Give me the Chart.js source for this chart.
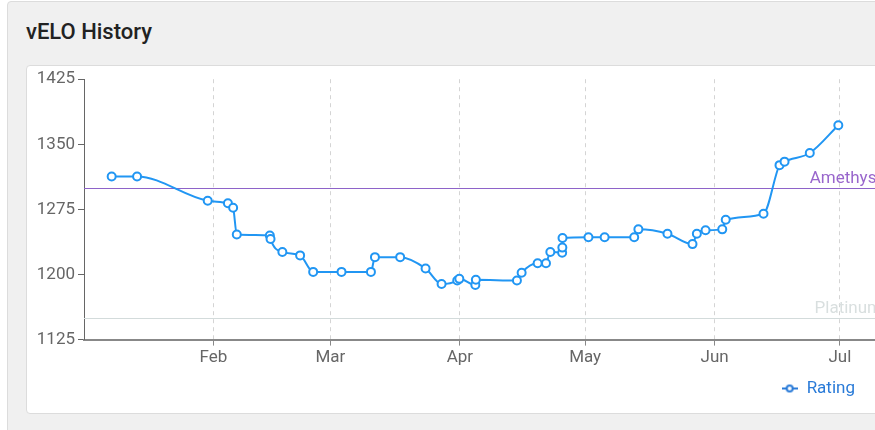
<!DOCTYPE html>
<html>
<head>
<meta charset="utf-8">
<title>vELO History</title>
<script src="https://cdn.jsdelivr.net/npm/chart.js@4.4.1/dist/chart.umd.min.js"></script>
<style>
  body {
    margin: 0;
    background: #fff;
    overflow: hidden;
    width: 875px;
    height: 430px;
    font-family: Roboto, "Noto Sans", sans-serif;
  }
  .card {
    position: absolute;
    left: 7px;
    top: 1px;
    width: 920px;
    height: 450px;
    background: #f0f0f0;
    border: 1px solid #dcdcdc;
    border-radius: 4px;
  }
  .card h3 {
    position: absolute;
    left: 18px;
    top: 17px;
    margin: 0;
    font-size: 22px;
    font-weight: 500;
    color: #222;
  }
  .panel {
    position: absolute;
    left: 18px;
    top: 63px;
    width: 900px;
    height: 347px;
    background: #fff;
    border: 1px solid #dcdcdc;
    border-radius: 4px;
  }
  #eloChart {
    position: absolute;
    left: 0;
    top: 0;
  }
</style>
</head>
<body>
<div class="card">
  <h3>vELO History</h3>
  <div class="panel">
    <canvas id="eloChart" width="900" height="347"></canvas>
  </div>
</div>
<script>
// rating history (2023)
const dates = [
  "2023-01-07T15:00", "2023-01-13T17:00", "2023-01-30T15:00", "2023-02-04T11:00",
  "2023-02-05T17:00", "2023-02-06T14:00", "2023-02-14T12:00", "2023-02-14T16:00",
  "2023-02-17T12:00", "2023-02-21T18:00", "2023-02-24T21:00", "2023-03-03T16:00",
  "2023-03-10T17:00", "2023-03-11T16:00", "2023-03-17T17:00", "2023-03-23T19:00",
  "2023-03-27T15:00", "2023-03-31T09:00", "2023-03-31T21:00", "2023-04-04T17:00",
  "2023-04-04T20:00", "2023-04-14T16:00", "2023-04-15T19:00", "2023-04-19T15:00",
  "2023-04-21T15:00", "2023-04-22T16:00", "2023-04-25T12:00", "2023-04-25T13:00",
  "2023-04-25T14:00", "2023-05-01T19:00", "2023-05-05T16:00", "2023-05-12T18:00",
  "2023-05-13T18:00", "2023-05-20T17:00", "2023-05-26T17:00", "2023-05-27T18:00",
  "2023-05-29T20:00", "2023-06-02T20:00", "2023-06-03T16:00", "2023-06-12T17:00",
  "2023-06-16T13:00", "2023-06-17T18:00", "2023-06-23T19:00", "2023-06-30T15:00"
];
const ratings = [
  1313, 1313, 1285, 1282,
  1277, 1246, 1245, 1241,
  1226, 1222, 1203, 1203,
  1203, 1220, 1220, 1207,
  1189, 1193, 1195, 1188,
  1194, 1193, 1202, 1213,
  1213, 1226, 1225, 1231,
  1242, 1243, 1243, 1243,
  1252, 1247, 1235, 1247,
  1251, 1252, 1263, 1270,
  1326, 1330, 1340, 1372
];

const axisStart = "2023-01-01T00:00";
const axisEnd = "2023-07-13T00:00";
const monthStarts = ["2023-02-01T00:00", "2023-03-01T00:00", "2023-04-01T00:00",
                     "2023-05-01T00:00", "2023-06-01T00:00", "2023-07-01T00:00"];
const monthLabels = ["Feb", "Mar", "Apr", "May", "Jun", "Jul"];

const yMin = 1125;
const yMax = 1425;
const yStep = 75;

const tierNames = ["Amethyst", "Platinum"];
const tierValues = [1300, 1150];

const tierStyles = {
  Amethyst: { line: "#8e63c9", text: "#9966cc" },
  Platinum: { line: "#d3dbdb", text: "#d9dfdf" }
};

const blue = "#2196f3";
const day0 = Date.parse(axisStart + "Z");
function toDay(s) {
  return (Date.parse(s + "Z") - day0) / 86400000;
}

const points = dates.map((d, i) => ({ x: toDay(d), y: ratings[i] }));
const tickDays = monthStarts.map(toDay);

// legend marker: line with a hollow circle
const marker = document.createElement("canvas");
marker.width = 16;
marker.height = 10;
(function () {
  const c = marker.getContext("2d");
  c.strokeStyle = "#2a7bd8";
  c.lineWidth = 2;
  c.beginPath();
  c.moveTo(0, 5);
  c.lineTo(16, 5);
  c.stroke();
  c.fillStyle = "#fff";
  c.beginPath();
  c.arc(8, 5, 3, 0, Math.PI * 2);
  c.fill();
  c.stroke();
})();

const tierLines = {
  id: "tierLines",
  afterLayout(chart) {
    chart.legend.right -= 22;
    chart.legend.top -= 3;
  },
  beforeDatasetsDraw(chart) {
    const { ctx, chartArea } = chart;
    const y = chart.scales.y;
    tierNames.forEach((name, i) => {
      const py = Math.round(y.getPixelForValue(tierValues[i])) + 0.5;
      const st = tierStyles[name];
      ctx.save();
      ctx.strokeStyle = st.line;
      ctx.lineWidth = 1;
      ctx.beginPath();
      ctx.moveTo(chartArea.left, py);
      ctx.lineTo(chartArea.right, py);
      ctx.stroke();
      ctx.fillStyle = st.text;
      ctx.font = "17px Roboto";
      ctx.textAlign = "right";
      ctx.textBaseline = "alphabetic";
      ctx.fillText(name, chartArea.right - 8, py - 6);
      ctx.restore();
    });
  }
};

new Chart(document.getElementById("eloChart"), {
  type: "line",
  data: {
    datasets: [
      {
        label: "Rating",
        data: points,
        borderColor: blue,
        backgroundColor: "#fff",
        borderWidth: 2,
        pointRadius: 4,
        pointBorderWidth: 2,
        pointBackgroundColor: "#fff",
        pointBorderColor: blue,
        cubicInterpolationMode: "monotone",
        fill: false
      }
    ]
  },
  options: {
    responsive: false,
    animation: false,
    devicePixelRatio: 1,
    layout: { padding: { top: 12, right: 37, left: 0, bottom: 3 } },
    plugins: {
      legend: {
        position: "bottom",
        align: "end",
        labels: {
          usePointStyle: true,
          pointStyle: marker,
          color: "#2a7bd8",
          padding: 13,
          font: { family: "Roboto", size: 17 }
        }
      },
      tooltip: { enabled: false }
    },
    scales: {
      x: {
        type: "linear",
        min: toDay(axisStart),
        max: toDay(axisEnd),
        afterBuildTicks(scale) {
          scale.ticks = tickDays.map((v) => ({ value: v }));
        },
        ticks: {
          color: "#666",
          padding: 2,
          maxRotation: 0,
          autoSkip: false,
          font: { family: "Roboto", size: 17 },
          callback(value) {
            const i = tickDays.indexOf(value);
            return i >= 0 ? monthLabels[i] : "";
          }
        },
        grid: {
          color: "#d4d4d4",
          tickColor: "#888",
          tickLength: 6,
          lineWidth: 1
        },
        border: { color: "#888", width: 2, dash: [4, 4] }
      },
      y: {
        min: yMin,
        max: yMax,
        afterFit(scale) {
          scale.width = 57;
        },
        ticks: {
          stepSize: yStep,
          color: "#666",
          padding: 3,
          font: { family: "Roboto", size: 17 },
          callback(value) {
            return String(value);
          }
        },
        grid: {
          drawOnChartArea: false,
          tickColor: "#666",
          tickLength: 6
        },
        border: { color: "#666", width: 1 }
      }
    }
  },
  plugins: [tierLines]
});
</script>
</body>
</html>
